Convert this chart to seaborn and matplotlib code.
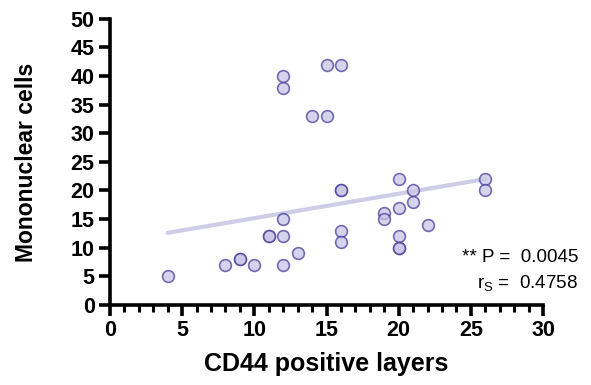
import matplotlib
matplotlib.use("Agg")
import matplotlib.pyplot as plt
import seaborn as sns
import numpy as np
import pandas as pd
from matplotlib.ticker import MultipleLocator

cd44 = [4, 8, 9, 9, 10, 11, 11, 12, 12, 12, 12, 12, 13, 14, 15, 15, 16, 16, 16, 16, 16,
        19, 19, 20, 20, 20, 20, 20, 21, 21, 22, 26, 26]
mono = [5, 7, 8, 8, 7, 12, 12, 12, 15, 7, 38, 40, 9, 33, 33, 42, 42, 20, 20, 13, 11,
        16, 15, 22, 17, 12, 10, 10, 20, 18, 14, 22, 20]
fit_x = [4, 26]
fit_y = [12.6, 22.0]
xticks = [0, 5, 10, 15, 20, 25, 30]
yticks = [0, 5, 10, 15, 20, 25, 30, 35, 40, 45, 50]

df = pd.DataFrame({"x": cd44, "y": mono})
fit = pd.DataFrame({"x": fit_x, "y": fit_y})

sns.set_style("ticks", {"axes.edgecolor": "black", "xtick.color": "black",
                        "ytick.color": "black", "text.color": "black",
                        "axes.labelcolor": "black"})
plt.rcParams['font.family'] = ['Liberation Sans', 'DejaVu Sans']

fig = plt.figure(figsize=(5.91, 3.85), dpi=100)
ax = fig.add_axes([0.186, 0.208, 0.733, 0.743])

sns.lineplot(data=fit, x="x", y="y", ax=ax, color="#cfcce8", lw=3, zorder=1)
sns.scatterplot(data=df, x="x", y="y", ax=ax, s=72, color="#c9c5e6",
                edgecolor="#4a3f99", linewidth=1.2, alpha=0.75, zorder=3, clip_on=False)

ax.set_xlim(0, 30)
ax.set_ylim(0, 50)
ax.set_xticks(xticks)
ax.set_yticks(yticks)
ax.xaxis.set_minor_locator(MultipleLocator(1))
for s in ["top", "right"]:
    ax.spines[s].set_visible(False)
for s in ["left", "bottom"]:
    ax.spines[s].set_linewidth(2.6)
    ax.spines[s].set_color("black")
ax.tick_params(which="major", length=8, width=2.6, labelsize=15.5, pad=3, colors="black")
ax.tick_params(which="minor", length=5, width=2.2, colors="black")
for lab in ax.get_xticklabels() + ax.get_yticklabels():
    lab.set_fontweight("bold")
ax.set_xlabel("CD44 positive layers", fontsize=18, fontweight="bold", labelpad=8, color="black")
ax.set_ylabel("Mononuclear cells", fontsize=16.5, fontweight="bold", color="black")
ax.yaxis.set_label_coords(-0.166, 0.5)

fig.text(0.978, 0.332, "** P =  0.0045", ha="right", va="center", fontsize=13.5, color="black")
fig.text(0.978, 0.262, r"r$_\mathregular{S}$ =  0.4758", ha="right", va="center", fontsize=13.5, color="black")

fig.savefig("out.png", dpi=100)
